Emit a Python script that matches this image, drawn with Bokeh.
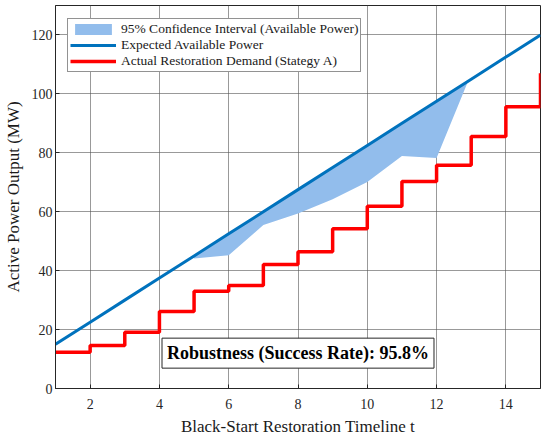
from bokeh.plotting import figure
from bokeh.models import Legend, LegendItem, Label, FixedTicker, Range1d
from bokeh.embed import file_html
from bokeh.resources import INLINE

# Data
t = [1, 2, 3, 4, 5, 6, 7, 8, 9, 10, 11, 12, 13, 14, 15]
expected_power = [15, 22.5, 30, 37.5, 45, 52.5, 60, 67.5, 75, 82.5, 90, 97.5, 105, 112.5, 120]
demand = [12.3, 14.6, 19.1, 26.1, 33.0, 35.0, 42.1, 46.4, 54.2, 61.9, 70.3, 75.8, 85.5, 95.6, 107.0]

band_t = [5, 6, 7, 8, 9, 10, 11, 12, 12.9]
band_upper = [45, 52.5, 60, 67.5, 75, 82.5, 90, 97.5, 104.3]
band_lower = [44.1, 45.2, 55.5, 59.4, 64.2, 70.1, 78.9, 78.2, 104.0]

x_ticks = [2, 4, 6, 8, 10, 12, 14]
y_ticks = [0, 20, 40, 60, 80, 100, 120]

FONT = "Liberation Serif"

p = figure(width=541, height=438, output_backend="svg", toolbar_location=None,
           x_range=Range1d(1, 15), y_range=Range1d(0, 130),
           min_border_left=51, min_border_right=1, min_border_top=5, min_border_bottom=49)

band = p.varea(x=band_t, y1=band_lower, y2=band_upper, fill_color="#92bdec", fill_alpha=1.0)
l_exp = p.line(t, expected_power, line_color="#0072BD", line_width=3)
l_dem = p.step(t, demand, mode="after", line_color="#FF0000", line_width=3.5)

# axes
p.xaxis.ticker = FixedTicker(ticks=x_ticks)
p.yaxis.ticker = FixedTicker(ticks=y_ticks)
for ax in (p.xaxis[0], p.yaxis[0]):
    ax.major_label_text_font = FONT
    ax.major_label_text_font_size = "14px"
    ax.major_label_text_color = "#262626"
    ax.axis_label_text_font = FONT
    ax.axis_label_text_font_size = "17px"
    ax.axis_label_text_font_style = "normal"
    ax.axis_label_text_color = "#1a1a1a"
    ax.axis_line_color = "#262626"
    ax.major_tick_in = 4
    ax.major_tick_out = 0
    ax.minor_tick_line_color = None
    ax.major_tick_line_color = "#262626"
p.xaxis.axis_label = "Black-Start Restoration Timeline t"
p.yaxis.axis_label = "Active Power Output (MW)"
p.xaxis.major_label_standoff = 10
p.xaxis.axis_label_standoff = 5
p.yaxis.major_label_standoff = 3
p.yaxis.axis_label_standoff = 6

p.grid.grid_line_color = "#555555"
p.grid.grid_line_alpha = 0.6
p.outline_line_color = "#262626"
p.outline_line_alpha = 1.0
p.outline_line_width = 1

legend = Legend(items=[
    LegendItem(label="95% Confidence Interval (Available Power)", renderers=[band]),
    LegendItem(label="Expected Available Power", renderers=[l_exp]),
    LegendItem(label="Actual Restoration Demand (Stategy A)", renderers=[l_dem]),
], location=(12, 316))
legend.label_text_font = FONT
legend.label_text_font_size = "13.5px"
legend.label_text_color = "#1a1a1a"
legend.glyph_width = 46
legend.glyph_height = 14
legend.label_height = 14
legend.label_standoff = 5
legend.spacing = 0
legend.padding = 2
legend.margin = 0
legend.border_line_color = "#262626"
legend.border_line_width = 1
legend.background_fill_color = "white"
legend.background_fill_alpha = 1.0
p.add_layout(legend, "center")

lab = Label(x=8.0, y=12.0, text="Robustness (Success Rate): 95.8%",
            text_font=FONT, text_font_size="18px", text_font_style="bold",
            text_align="center", text_baseline="middle", text_color="black",
            border_line_color="#262626", border_line_width=1,
            background_fill_color="white", background_fill_alpha=1.0,
            padding=5)
p.add_layout(lab)

open("out.html", "w").write(file_html(p, INLINE))
